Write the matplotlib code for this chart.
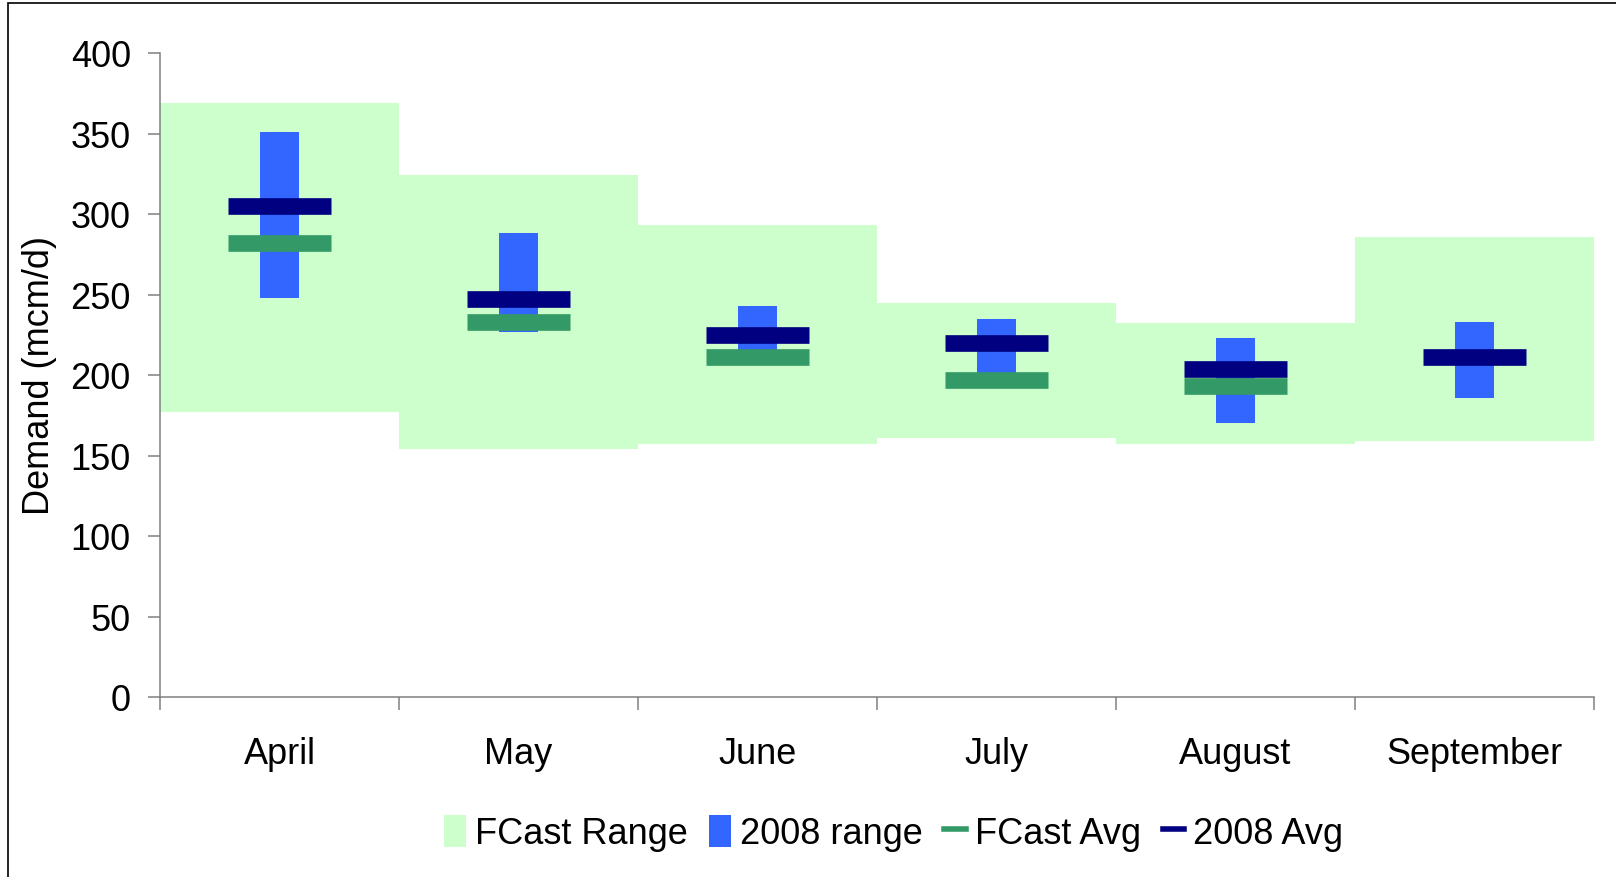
import numpy as np
import matplotlib
matplotlib.use("Agg")
import matplotlib.pyplot as plt
from matplotlib.patches import Patch, Rectangle
from matplotlib.lines import Line2D

plt.rcParams['font.family'] = ['Liberation Sans', 'DejaVu Sans']

# values
months = ["April", "May", "June", "July", "August", "September"]
fcast_low = [177, 154, 157, 161, 157, 159]
fcast_high = [369, 324, 293, 245, 232, 286]
range08_low = [248, 227, 215, 201, 170, 186]
range08_high = [351, 288, 243, 235, 223, 233]
fcast_avg = [282, 233, 211, 197, 193, np.nan]
avg08 = [305, 247, 225, 220, 204, 211]

c_fr = "#CCFFCC"
c_r08 = "#3366FF"
c_fa = "#339966"
c_a08 = "#000080"

fig = plt.figure(figsize=(16.16, 8.78), dpi=100)
ax = fig.add_axes([160 / 1616, 1 - 698 / 878, 1434 / 1616, (698 - 54) / 878])

x = np.arange(len(months)) + 0.5
lo = np.array(fcast_low)
hi = np.array(fcast_high)
ax.bar(x, hi - lo, bottom=lo, width=1.0, color=c_fr, linewidth=0, zorder=1)
lo8 = np.array(range08_low)
hi8 = np.array(range08_high)
ax.bar(x, hi8 - lo8, bottom=lo8, width=0.16, color=c_r08, linewidth=0, zorder=2)

half = 0.215
for xi, fa, a8 in zip(x, fcast_avg, avg08):
    if not np.isnan(fa):
        ax.hlines(fa, xi - half, xi + half, colors=c_fa, linewidth=12, zorder=3)
    ax.hlines(a8, xi - half, xi + half, colors=c_a08, linewidth=12, zorder=4)

ax.set_xlim(0, len(months))
ax.set_ylim(0, 400)
ax.set_yticks(np.arange(0, 401, 50))
ax.set_xticks(np.arange(len(months) + 1))
ax.set_xticklabels([])
ax.set_xticks(x, minor=True)
ax.set_xticklabels(months, minor=True)
ax.tick_params(axis='x', which='minor', length=0, pad=28, labelsize=26)
ax.tick_params(axis='x', which='major', length=9, width=1.1, color="#808080")
ax.tick_params(axis='y', length=9, width=1.1, color="#808080", pad=12, labelsize=26)

for s in ["top", "right"]:
    ax.spines[s].set_visible(False)
for s in ["left", "bottom"]:
    ax.spines[s].set_color("#808080")
    ax.spines[s].set_linewidth(1.1)
    ax.spines[s].set_zorder(5)

ax.set_ylabel("Demand (mcm/d)", fontsize=26)
ax.yaxis.set_label_coords(-0.072, 0.5)

handles = [
    Patch(facecolor=c_fr, edgecolor='none'),
    Patch(facecolor=c_r08, edgecolor='none'),
    Line2D([], [], color=c_fa, linewidth=4),
    Line2D([], [], color=c_a08, linewidth=4),
]
labels = ["FCast Range", "2008 range", "FCast Avg", "2008 Avg"]
fig.legend(handles, labels, loc='center', bbox_to_anchor=(0.553, 0.05), ncol=4,
           frameon=False, fontsize=26, handlelength=0.6, handleheight=1.0,
           handletextpad=0.25, columnspacing=0.6)

# outer frame of the original chart area
fig.add_artist(Rectangle((8 / 1616, -0.1), 2, 1 - 4 / 878 + 0.1, fill=False,
                         edgecolor='black', linewidth=1.2, transform=fig.transFigure,
                         clip_on=False))

fig.savefig("out.png", dpi=100)
